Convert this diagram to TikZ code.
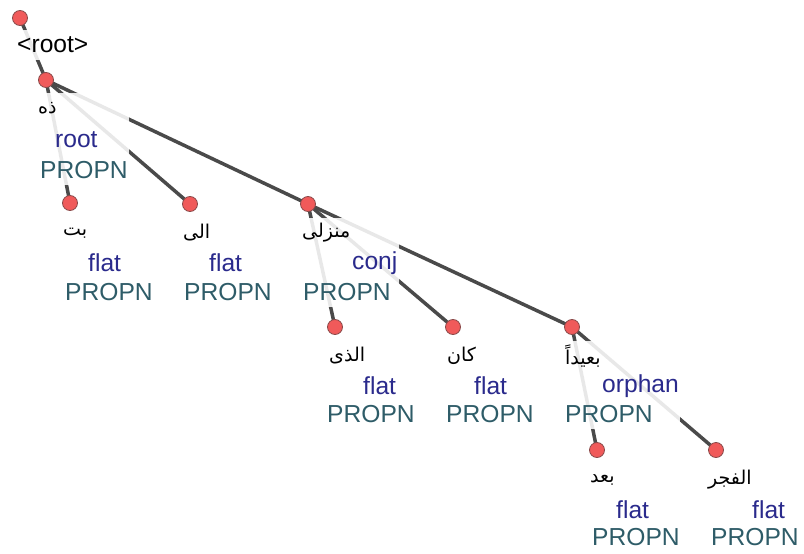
\documentclass[tikz,border=0pt]{standalone}
\usepackage{fontspec}
\setmainfont{Liberation Sans}
\newfontfamily\arabicfont[Script=Arabic]{DejaVu Sans}
\TeXXeTstate=1
\usetikzlibrary{backgrounds,fit}
\definecolor{tokfill}{HTML}{F05A5A}
\definecolor{tokdraw}{HTML}{8A4A4A}
\definecolor{arcgray}{HTML}{4A4A4A}
\definecolor{relblue}{HTML}{2A2A8C}
\definecolor{posteal}{HTML}{2E5C68}
\newcommand{\ar}[1]{{\arabicfont\fontsize{19}{22}\selectfont\beginR #1\endR}}
\tikzset{
  tok/.style={circle, fill=tokfill, draw=tokdraw, line width=0.8pt, minimum size=15pt, inner sep=0pt},
  lbl/.style={anchor=west, inner xsep=1pt, inner ysep=0pt, minimum height=30pt, font=\fontsize{24.6}{29}\selectfont},
  form/.style={lbl, text=black},
  deprel/.style={lbl, text=relblue},
  upos/.style={lbl, text=posteal},
  veil/.style={fill=white, fill opacity=0.88, inner sep=0pt},
  deparc/.style={draw=arcgray, line width=3.5pt}
}
\begin{document}
\begin{tikzpicture}[x=1pt, y=-1pt]
\useasboundingbox (0,0) rectangle (804,554);
\node[tok] (T_0) at (20,18) {};
\node[form] (F_0) at (16,45) {<root>};
\node[tok] (T_1) at (46,80) {};
\node[form] (F_1) at (37,108) {\ar{ذه}};
\node[deprel] (D_1) at (54,140) {root};
\node[upos] (U_1) at (39,170) {PROPN};
\node[tok] (T_2) at (70,203) {};
\node[form] (F_2) at (62,233) {\ar{بت}};
\node[deprel] (D_2) at (87,263) {flat};
\node[upos] (U_2) at (64,292) {PROPN};
\node[tok] (T_3) at (190,204) {};
\node[form] (F_3) at (182,233) {\ar{الى}};
\node[deprel] (D_3) at (208,263) {flat};
\node[upos] (U_3) at (183,292) {PROPN};
\node[tok] (T_4) at (308,204) {};
\node[form] (F_4) at (301,233) {\ar{منزلى}};
\node[deprel] (D_4) at (351,263) {conj};
\node[upos] (U_4) at (302,292) {PROPN};
\node[tok] (T_5) at (335,327) {};
\node[form] (F_5) at (328,356) {\ar{الذى}};
\node[deprel] (D_5) at (362,386) {flat};
\node[upos] (U_5) at (326,414) {PROPN};
\node[tok] (T_6) at (453,327) {};
\node[form] (F_6) at (446,356) {\ar{كان}};
\node[deprel] (D_6) at (473,386) {flat};
\node[upos] (U_6) at (445,414) {PROPN};
\node[tok] (T_7) at (572,327) {};
\node[form] (F_7) at (564,356) {\ar{بعيداً}};
\node[deprel] (D_7) at (601,386) {orphan};
\node[upos] (U_7) at (564,414) {PROPN};
\node[tok] (T_8) at (597,450) {};
\node[form] (F_8) at (589,480) {\ar{بعد}};
\node[deprel] (D_8) at (615,510) {flat};
\node[upos] (U_8) at (591,537) {PROPN};
\node[tok] (T_9) at (716,450) {};
\node[form] (F_9) at (707,480) {\ar{الفجر}};
\node[deprel] (D_9) at (751,510) {flat};
\node[upos] (U_9) at (710,537) {PROPN};
\begin{scope}[on background layer]
\draw[deparc] (T_0.center) -- (T_1.center);
\draw[deparc] (T_1.center) -- (T_2.center);
\draw[deparc] (T_1.center) -- (T_3.center);
\draw[deparc] (T_1.center) -- (T_4.center);
\draw[deparc] (T_4.center) -- (T_5.center);
\draw[deparc] (T_4.center) -- (T_6.center);
\draw[deparc] (T_4.center) -- (T_7.center);
\draw[deparc] (T_7.center) -- (T_8.center);
\draw[deparc] (T_7.center) -- (T_9.center);
\node[veil, fit=(F_0)] (V_0) {};
\foreach \i in {1,...,9}
  \node[veil, fit=(F_\i)(D_\i)(U_\i)] (V_\i) {};
\end{scope}
\end{tikzpicture}
\end{document}
